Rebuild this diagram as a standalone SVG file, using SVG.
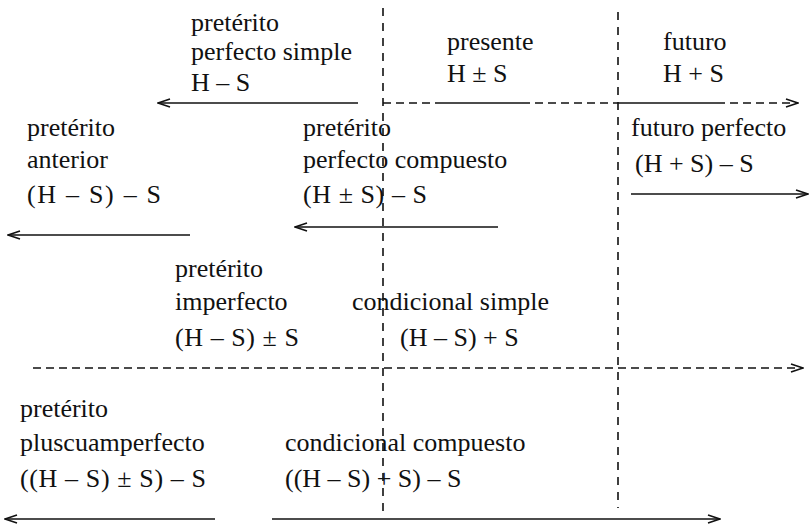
<svg xmlns="http://www.w3.org/2000/svg" width="810" height="525" viewBox="0 0 810 525">
<defs>
<style>
text{font-family:"Liberation Serif","Times New Roman",serif;font-size:26px;fill:#111;}
.l{stroke:#111;stroke-width:1.6;fill:none;}
.d{stroke:#111;stroke-width:1.6;fill:none;stroke-dasharray:8 5;}
.v{stroke:#111;stroke-width:1.6;fill:none;stroke-dasharray:8 7;}
</style>
<marker id="ah" viewBox="0 0 14 10" refX="13" refY="5" markerWidth="14" markerHeight="10" markerUnits="userSpaceOnUse" orient="auto">
<path d="M1,1 L13,5 L1,9" fill="none" stroke="#111" stroke-width="1.6"/>
</marker>
</defs>
<g id="connectors">
<line class="v" x1="383" y1="8" x2="383" y2="512"/>
<line class="v" x1="618" y1="12" x2="618" y2="508"/>
<line class="l" x1="358" y1="103" x2="158" y2="103" marker-end="url(#ah)"/>
<line class="d" x1="383" y1="103" x2="437" y2="103"/>
<line class="l" x1="437" y1="103" x2="522" y2="103"/>
<line class="d" x1="522" y1="103" x2="618" y2="103"/>
<line class="l" x1="618" y1="103" x2="717" y2="103"/>
<line class="d" x1="717" y1="103" x2="798" y2="103" marker-end="url(#ah)"/>
<line class="l" x1="190" y1="235" x2="8" y2="235" marker-end="url(#ah)"/>
<line class="l" x1="498" y1="227" x2="295" y2="227" marker-end="url(#ah)"/>
<line class="l" x1="631" y1="194" x2="808" y2="194" marker-end="url(#ah)"/>
<line class="d" x1="33" y1="368" x2="803" y2="368" marker-end="url(#ah)"/>
<line class="l" x1="215" y1="519" x2="5" y2="519" marker-end="url(#ah)"/>
<line class="l" x1="272" y1="519" x2="720" y2="519" marker-end="url(#ah)"/>
</g>
<g id="preterito-perfecto-simple">
<text x="191" y="31">pretérito</text>
<text x="191" y="60">perfecto simple</text>
<text x="191" y="91">H – S</text>
</g>
<g id="presente">
<text x="447" y="50">presente</text>
<text x="447" y="82">H ± S</text>
</g>
<g id="futuro">
<text x="663" y="50">futuro</text>
<text x="663" y="82">H + S</text>
</g>
<g id="preterito-anterior">
<text x="27" y="136">pretérito</text>
<text x="27" y="168">anterior</text>
<text x="27" y="203" textLength="134" lengthAdjust="spacing">(H – S) – S</text>
</g>
<g id="preterito-perfecto-compuesto">
<text x="303" y="136">pretérito</text>
<text x="303" y="168">perfecto compuesto</text>
<text x="303" y="203" textLength="124" lengthAdjust="spacing">(H ± S) – S</text>
</g>
<g id="futuro-perfecto">
<text x="631" y="136">futuro perfecto</text>
<text x="635" y="172">(H + S) – S</text>
</g>
<g id="preterito-imperfecto">
<text x="175" y="277">pretérito</text>
<text x="175" y="310">imperfecto</text>
<text x="175" y="346" textLength="124" lengthAdjust="spacing">(H – S) ± S</text>
</g>
<g id="condicional-simple">
<text x="352" y="310">condicional simple</text>
<text x="400" y="346">(H – S) + S</text>
</g>
<g id="preterito-pluscuamperfecto">
<text x="20" y="417">pretérito</text>
<text x="20" y="451">pluscuamperfecto</text>
<text x="20" y="487" textLength="186" lengthAdjust="spacing">((H – S) ± S) – S</text>
</g>
<g id="condicional-compuesto">
<text x="285" y="451">condicional compuesto</text>
<text x="285" y="487">((H – S) + S) – S</text>
</g>
</svg>
